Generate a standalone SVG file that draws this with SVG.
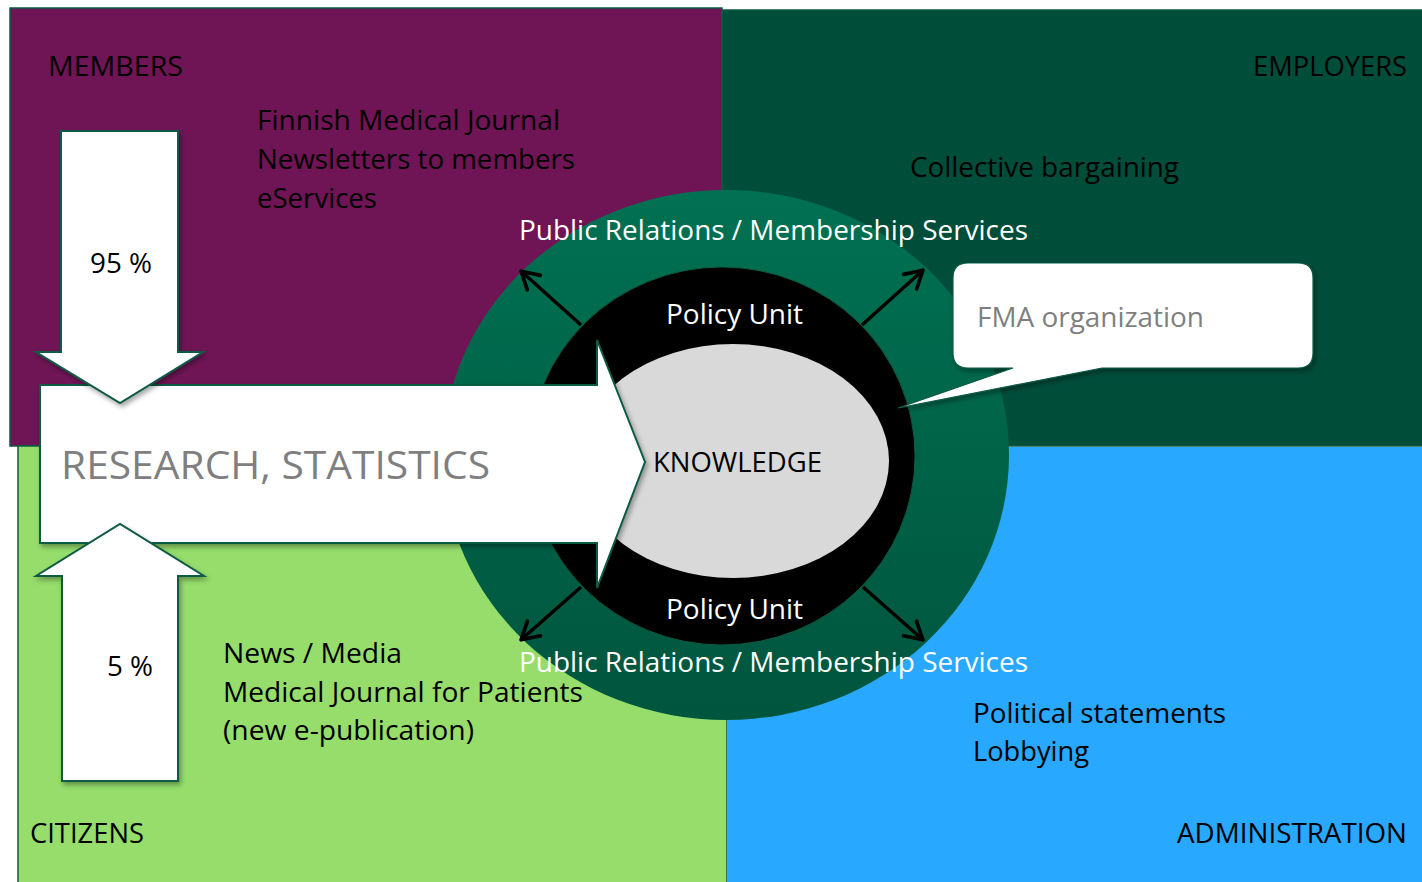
<svg xmlns="http://www.w3.org/2000/svg" width="1422" height="882" viewBox="0 0 1422 882">
<style>
text{font-family:"Open Sans","Liberation Sans",sans-serif;font-size:27px;}
.dk{fill:#000;}
.wt{fill:#fff;}
.gr{fill:#7f7f7f;}
.quad{stroke:#0d5a44;stroke-width:1.5;}
.wa{fill:#fff;stroke:#0d5a44;stroke-width:2;}
.da{stroke:#000;stroke-width:3.5;fill:none;marker-end:url(#ah);}
</style>
<defs>
<linearGradient id="og" x1="0" y1="0" x2="0" y2="1">
<stop offset="0" stop-color="#007152"/>
<stop offset="1" stop-color="#00553d"/>
</linearGradient>
<filter id="sh" x="-10%" y="-10%" width="130%" height="130%">
<feDropShadow dx="2" dy="3" stdDeviation="2.5" flood-color="#000" flood-opacity="0.35"/>
</filter>
<marker id="ah" viewBox="0 0 10 10" refX="8" refY="5" markerWidth="7" markerHeight="7" orient="auto" markerUnits="strokeWidth">
<path d="M1.5,1 L8.5,5 L1.5,9" fill="none" stroke="#000" stroke-width="1.5" stroke-linecap="round" stroke-linejoin="round"/>
</marker>
</defs>
<rect width="1422" height="882" fill="#fff"/>
<g id="quadrants">
<rect id="members-bg" class="quad" x="10" y="8" width="712" height="438" fill="#6f1555"/>
<rect id="employers-bg" class="quad" x="722" y="10" width="702" height="436" fill="#004d3a"/>
<rect id="citizens-bg" class="quad" x="18" y="446" width="709" height="440" fill="#96dd6c"/>
<rect id="administration-bg" x="727" y="447" width="697" height="437" fill="#29a8ff"/>
</g>
<g id="circle">
<ellipse cx="726" cy="455" rx="283" ry="265" fill="url(#og)"/>
<ellipse cx="722" cy="456" rx="193" ry="189" fill="#000" stroke="#0d5a44" stroke-width="1"/>
<ellipse id="knowledge-core" cx="733" cy="461" rx="156" ry="117" fill="#d9d9d9"/>
</g>
<g id="research-arrow" filter="url(#sh)">
<path class="wa" d="M40,385 H597 V340 L645,462 L597,588 V543 H40 Z"/>
</g>
<g id="down-arrow" filter="url(#sh)">
<path class="wa" d="M61,131 H178 V352 H203 L120,403 L36,352 H61 Z"/>
</g>
<g id="up-arrow" filter="url(#sh)">
<path class="wa" d="M62,781 H178 V576 H204 L120,524 L36,576 H62 Z"/>
</g>
<g id="connectors">
<line class="da" x1="581" y1="325" x2="522" y2="272"/>
<line class="da" x1="862" y1="325" x2="922" y2="271"/>
<line class="da" x1="581" y1="587" x2="522" y2="639"/>
<line class="da" x1="863" y1="587" x2="922" y2="639"/>
</g>
<g id="callout" filter="url(#sh)">
<path d="M968,263 H1298 Q1313,263 1313,278 V353 Q1313,368 1298,368 H1102 L898,408 L1013,368 H968 Q953,368 953,353 V278 Q953,263 968,263 Z" fill="#fff" stroke="#0d5a44" stroke-width="1.2"/>
</g>
<g id="labels">
<text class="dk" x="48" y="76" textLength="135" lengthAdjust="spacingAndGlyphs">MEMBERS</text>
<text class="dk" x="257" y="130" textLength="303" lengthAdjust="spacingAndGlyphs">Finnish Medical Journal</text>
<text class="dk" x="257" y="169" textLength="318" lengthAdjust="spacingAndGlyphs">Newsletters to members</text>
<text class="dk" x="257" y="208" textLength="120" lengthAdjust="spacingAndGlyphs">eServices</text>
<text class="dk" x="90" y="273" textLength="62" lengthAdjust="spacingAndGlyphs">95 %</text>
<text class="dk" x="1253" y="76" textLength="154" lengthAdjust="spacingAndGlyphs">EMPLOYERS</text>
<text class="dk" x="910" y="177" textLength="269" lengthAdjust="spacingAndGlyphs">Collective bargaining</text>
<text class="wt" x="519" y="240" textLength="509" lengthAdjust="spacingAndGlyphs">Public Relations / Membership Services</text>
<text class="wt" x="666" y="324" textLength="137" lengthAdjust="spacingAndGlyphs">Policy Unit</text>
<text class="dk" x="653" y="472" textLength="169" lengthAdjust="spacingAndGlyphs">KNOWLEDGE</text>
<text class="wt" x="666" y="619" textLength="137" lengthAdjust="spacingAndGlyphs">Policy Unit</text>
<text class="wt" x="519" y="672" textLength="509" lengthAdjust="spacingAndGlyphs">Public Relations / Membership Services</text>
<text class="gr" x="977" y="327" textLength="227" lengthAdjust="spacingAndGlyphs">FMA organization</text>
<text class="gr" x="61" y="479" style="font-size:38px" textLength="429" lengthAdjust="spacingAndGlyphs">RESEARCH, STATISTICS</text>
<text class="dk" x="107" y="676" textLength="46" lengthAdjust="spacingAndGlyphs">5 %</text>
<text class="dk" x="223" y="663" textLength="179" lengthAdjust="spacingAndGlyphs">News / Media</text>
<text class="dk" x="223" y="702" textLength="360" lengthAdjust="spacingAndGlyphs">Medical Journal for Patients</text>
<text class="dk" x="223" y="740" textLength="251" lengthAdjust="spacingAndGlyphs">(new e-publication)</text>
<text class="dk" x="30" y="843" textLength="114" lengthAdjust="spacingAndGlyphs">CITIZENS</text>
<text class="dk" x="973" y="723" textLength="253" lengthAdjust="spacingAndGlyphs">Political statements</text>
<text class="dk" x="973" y="761" textLength="116" lengthAdjust="spacingAndGlyphs">Lobbying</text>
<text class="dk" x="1177" y="843" textLength="230" lengthAdjust="spacingAndGlyphs">ADMINISTRATION</text>
</g>
</svg>
